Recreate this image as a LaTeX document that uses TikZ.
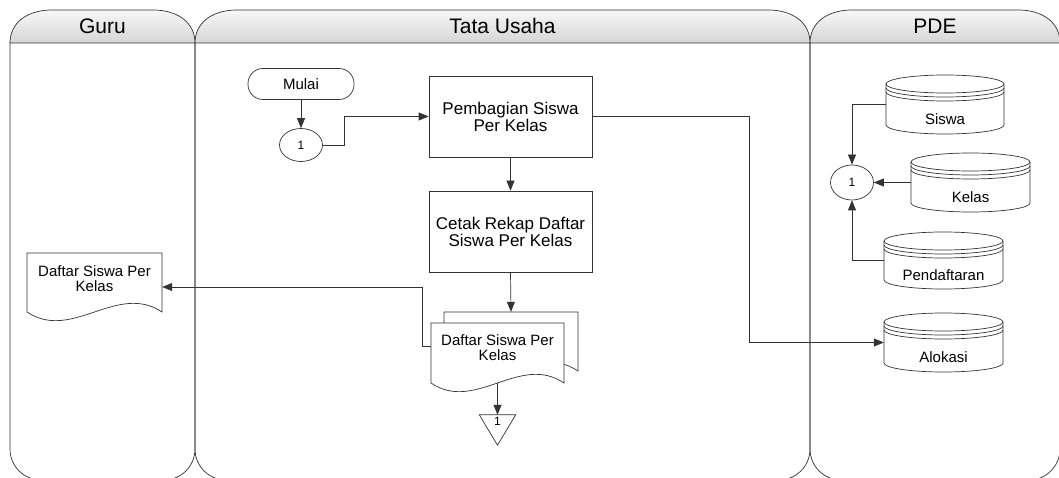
\documentclass[tikz,border=0pt]{standalone}
\usepackage{fontspec}
\setmainfont{Liberation Sans}
\usetikzlibrary{arrows.meta,shapes.geometric,calc}
\tikzset{
  ln/.style={draw=black!80, line width=0.7pt},
  arr/.style={ln, -{Triangle[length=10pt,width=8pt]}},
  hdrfill/.style={ln, top color=gray!6, bottom color=gray!32},
  hdrtext/.style={font=\fontsize{21}{21}\selectfont},
  procbox/.style={ln, minimum width=163, minimum height=81, inner sep=0pt, align=center, font=\fontsize{17}{17}\selectfont},
  termbox/.style={ln, rounded corners=15pt, minimum width=106, minimum height=31, inner sep=0pt, font=\fontsize{15}{15}\selectfont},
  connbox/.style={ln, ellipse, minimum width=43, minimum height=33, inner sep=0pt, font=\fontsize{12}{12}\selectfont},
  shapebox/.style={draw=none, inner sep=0pt},
  smalltext/.style={inner sep=0pt, align=center, font=\fontsize{15}{15}\selectfont},
  onetext/.style={inner sep=0pt, font=\fontsize{12}{12}\selectfont},
}
\newcommand\dbcyl[6]{%
  \node[shapebox, minimum width={#3-#2}, minimum height={#5-#4}] (#1) at ({(#2+#3)/2},{(#4+#5)/2}) {};
  \draw[ln, fill=white] (#2,#4+9) -- (#2,#5-9) arc[start angle=180,end angle=0,x radius={(#3-#2)/2},y radius=9] -- (#3,#4+9);
  \draw[ln] ({(#2+#3)/2},#4+9) ellipse[x radius={(#3-#2)/2},y radius=9];
  \draw[ln] (#2,#4+13) arc[start angle=180,end angle=0,x radius={(#3-#2)/2},y radius=9];
  \draw[ln] (#2,#4+17) arc[start angle=180,end angle=0,x radius={(#3-#2)/2},y radius=9];
  \node[smalltext] (#1-t) at ([yshift=-14.5pt]#1.center) {#6};
}
\newcommand\docshp[5]{%
  \node[shapebox, minimum width={#3-#2}, minimum height={#5-#4}] (#1) at ({(#2+#3)/2},{(#4+#5)/2}) {};
  \draw[ln, fill=white] (#2,#4) -- (#3,#4) -- (#3,#5) .. controls ({#3-(#3-#2)/3},#5-30) and ({#2+(#3-#2)/3},#5+30) .. (#2,#5) -- cycle;
}
\begin{document}
\begin{tikzpicture}[x=1pt,y=-1pt]
\useasboundingbox (0,0) rectangle (1059,478);
\fill[white] (0,0) rectangle (1059,478);
\clip (0,0) rectangle (1059,478);
% lanes
\foreach \L/\R in {10/195,195/810,810/1060}{
  \draw[hdrfill] (\L,43) .. controls (\L,22) and (\L+18,10) .. (\L+42,10) -- (\R-42,10) .. controls (\R-18,10) and (\R,22) .. (\R,43) -- cycle;
  \draw[ln, rounded corners=31pt] (\L,43) -- (\L,480) -- (\R,480) -- (\R,43);
}
\node[hdrtext] (hguru) at (102.5,26) {Guru};
\node[hdrtext] (htu) at (502.5,26) {Tata Usaha};
\node[hdrtext] (hpde) at (935,26) {PDE};
% Tata Usaha
\node[termbox] (mulai) at (301,84) {Mulai};
\node[connbox] (c1) at (301,145) {1};
\node[procbox] (pemb) at (510.5,116.5) {Pembagian Siswa\\Per Kelas};
\node[procbox] (cetak) at (510.5,231.5) {Cetak Rekap Daftar\\Siswa Per Kelas};
\docshp{bdoc}{444}{578}{312}{371}
\docshp{fdoc}{431}{564}{323}{383}
\node[smalltext] (fdoc-t) at ([yshift=-24.5pt]fdoc.north) {Daftar Siswa Per\\Kelas};
\node[shapebox, minimum width=36, minimum height=30] (tri) at (497.5,430) {};
\draw[ln, fill=white] (tri.north west) -- (tri.north east) -- (tri.south) -- cycle;
\node[onetext] (tri-t) at ([yshift=-7pt]tri.north) {1};
% Guru
\docshp{gdoc}{27}{162}{253}{312}
\node[smalltext] (gdoc-t) at ([yshift=-25.5pt]gdoc.north) {Daftar Siswa Per\\Kelas};
% PDE
\dbcyl{siswa}{886}{1004}{75}{134}{Siswa}
\dbcyl{kelas}{911}{1030}{153}{212}{Kelas}
\dbcyl{pend}{884}{1003}{232}{289}{Pendaftaran}
\dbcyl{alok}{884}{1003}{313}{372}{Alokasi}
\node[connbox, minimum height=35] (c2) at (852,182.5) {1};
% connectors
\draw[arr] (mulai.south) -- (c1.north);
\draw[arr] (c1.east) -- ++(21,0) |- (pemb.west);
\draw[arr] (pemb.south) -- (cetak.north);
\draw[arr] (cetak.south) -- (bdoc.north);
\draw[arr] (fdoc.south) -- (tri.north);
\draw[arr] ([yshift=7pt]fdoc.west) -- ++(-8,0) |- ([yshift=-4.5pt]gdoc.east);
\draw[arr] (pemb.east) -- ++(157,0) |- (alok.west);
\draw[arr] (siswa.west) -| (c2.north);
\draw[arr] (kelas.west) -- (c2.east);
\draw[arr] (pend.west) -| (c2.south);
\end{tikzpicture}
\end{document}
